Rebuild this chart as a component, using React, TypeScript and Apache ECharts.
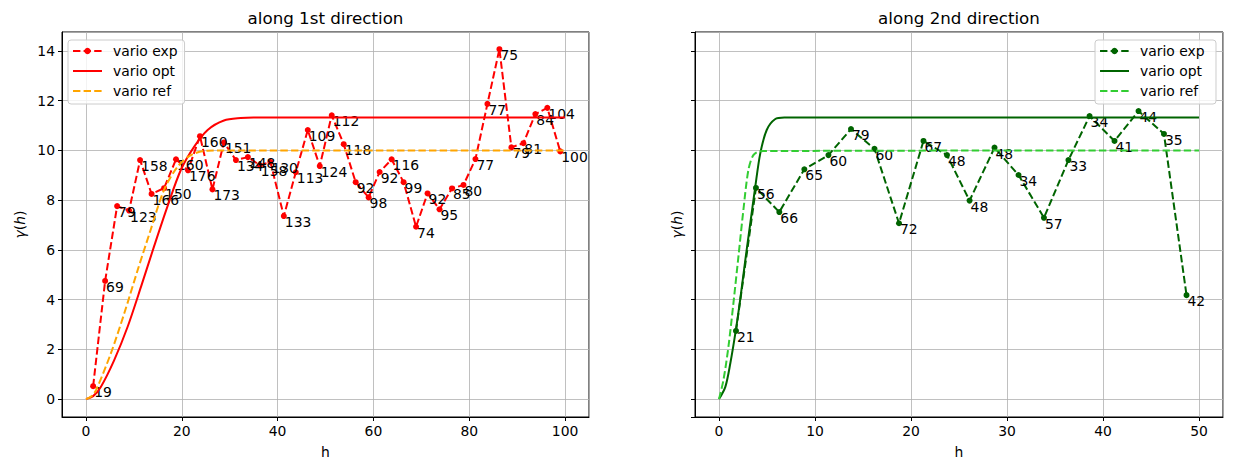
import React, { useEffect, useRef } from "react";
import * as echarts from "echarts";

// ---------- data ----------
// left panel: along 1st direction
const lagA = [1.5, 4.0, 6.5, 9.0, 11.3, 13.7, 16.3, 18.8, 21.3, 23.8, 26.4, 28.8, 31.3, 33.8, 36.3, 38.5, 41.3, 43.8, 46.3, 48.8, 51.3, 53.8, 56.3, 59.0, 61.3, 63.8, 66.3, 68.9, 71.3, 73.8, 76.4, 78.8, 81.3, 83.8, 86.3, 88.8, 91.3, 93.8, 96.3, 99.0];
const expA = [0.52, 4.75, 7.76, 7.58, 9.61, 8.25, 8.48, 9.64, 9.2, 10.57, 8.43, 10.32, 9.61, 9.73, 9.4, 9.53, 7.36, 9.12, 10.82, 9.37, 11.41, 10.25, 8.72, 8.11, 9.13, 9.64, 8.72, 6.93, 8.27, 7.63, 8.47, 8.61, 9.65, 11.87, 14.07, 10.12, 10.29, 11.46, 11.71, 9.96];
const countsA = [19, 69, 79, 123, 158, 166, 150, 160, 176, 160, 173, 151, 134, 148, 158, 130, 133, 113, 109, 124, 112, 118, 92, 98, 92, 116, 99, 74, 92, 95, 85, 80, 77, 77, 75, 79, 81, 84, 104, 100];
const optHA = [0, 1.5, 3.1, 5.9, 8.7, 11.5, 14.2, 17.0, 19.8, 22.6, 25.4, 28.8, 32.3, 35.0, 100];
const optGA = [0, 0.12, 0.49, 1.57, 2.91, 4.52, 6.13, 7.74, 9.21, 10.15, 10.82, 11.2, 11.3, 11.32, 11.32];
const refHA = [0, 1.0, 2.1, 5.2, 8.0, 10.8, 13.5, 16.3, 19.1, 21.9, 25.3, 28.0, 100];
const refGA = [0, 0.09, 0.36, 1.84, 3.45, 5.19, 6.8, 8.41, 9.34, 9.81, 9.99, 10, 10];

// right panel: along 2nd direction
const lagB = [1.77, 3.85, 6.28, 8.89, 11.4, 13.75, 16.2, 18.75, 21.3, 23.75, 26.1, 28.7, 31.2, 33.85, 36.4, 38.6, 41.2, 43.7, 46.35, 48.7];
const expB = [2.74, 8.49, 7.52, 9.24, 9.81, 10.86, 10.06, 7.07, 10.38, 9.81, 7.98, 10.11, 9.01, 7.29, 9.61, 11.38, 10.38, 11.58, 10.66, 4.18];
const countsB = [21, 56, 66, 65, 60, 79, 60, 72, 67, 48, 48, 48, 34, 57, 33, 34, 41, 44, 35, 42];
const optHB = [0, 0.66, 1.18, 1.7, 2.2, 2.74, 3.26, 3.78, 4.3, 4.97, 5.83, 6.8, 50];
const optGB = [0, 0.49, 1.44, 2.64, 3.98, 5.59, 7.07, 8.54, 9.88, 10.82, 11.25, 11.32, 11.32];
const refHB = [0, 0.46, 0.98, 1.5, 2.02, 2.54, 3.06, 3.58, 4.3, 50];
const refGB = [0, 0.76, 2.1, 3.85, 5.72, 7.6, 9.21, 9.81, 9.97, 10];

const titles = ["along 1st direction", "along 2nd direction"];
const legendNames = ["vario exp", "vario opt", "vario ref"];

const FONT = "DejaVu Sans";
const DASH = [7.4, 3.2];

const zip = (xs: number[], ys: number[]) => xs.map((x, i) => [x, ys[i]]);

export default function App() {
  const ref = useRef<HTMLDivElement>(null);
  useEffect(() => {
    const chart = echarts.init(ref.current!, null, { renderer: "svg" });

    const grids = [
      { left: 62, top: 32, width: 527, height: 385 },
      { left: 695, top: 32, width: 528, height: 385 },
    ];

    const xAxisBase = (gi: number, min: number, max: number, iv: number) => ({
      type: "value",
      gridIndex: gi,
      min,
      max,
      minInterval: iv,
      maxInterval: iv,
      splitNumber: 5,
      name: "h",
      nameLocation: "middle",
      nameGap: 28,
      nameTextStyle: { color: "#000", fontSize: 13.9, fontFamily: FONT },
      axisLine: { onZero: false, lineStyle: { color: "#000", width: 1 } },
      axisTick: { show: true, length: 4, lineStyle: { color: "#000", width: 1 } },
      axisLabel: {
        color: "#000",
        fontSize: 13.9,
        fontFamily: FONT,
        margin: 7,
        showMinLabel: false,
        showMaxLabel: false,
      },
      splitLine: { show: true, lineStyle: { color: "#b0b0b0", width: 0.8 } },
    });

    const yAxisBase = (gi: number, showLabels: boolean, gap: number) => ({
      type: "value",
      gridIndex: gi,
      min: -0.72,
      max: 14.76,
      minInterval: 2,
      maxInterval: 2,
      splitNumber: 7,
      name: "{g|γ}{p|(}{g|h}{p|)}",
      nameLocation: "middle",
      nameRotate: 90,
      nameGap: gap,
      nameTextStyle: {
        color: "#000",
        rich: {
          g: { fontStyle: "italic", fontSize: 13.9, fontFamily: FONT, color: "#000" },
          p: { fontSize: 13.9, fontFamily: FONT, color: "#000" },
        },
      },
      axisLine: { onZero: false, lineStyle: { color: "#000", width: 1 } },
      axisTick: { show: true, length: 4, lineStyle: { color: "#000", width: 1 } },
      axisLabel: {
        show: showLabels,
        color: "#000",
        fontSize: 13.9,
        fontFamily: FONT,
        margin: 7,
        showMinLabel: false,
        showMaxLabel: false,
      },
      splitLine: { show: true, lineStyle: { color: "#b0b0b0", width: 0.8 } },
    });

    const expSeries = (
      name: string,
      gi: number,
      xs: number[],
      ys: number[],
      counts: number[],
      color: string
    ) => ({
      name,
      type: "line",
      xAxisIndex: gi,
      yAxisIndex: gi,
      data: zip(xs, ys),
      symbol: "circle",
      symbolSize: 6,
      showSymbol: true,
      itemStyle: { color },
      lineStyle: { color, width: 2, type: DASH },
      label: {
        show: true,
        position: "right",
        distance: 0,
        align: "left",
        verticalAlign: "top",
        offset: [-2, -1],
        color: "#000",
        fontSize: 13.9,
        fontFamily: FONT,
        formatter: (p: any) => String(counts[p.dataIndex]),
      },
      emphasis: { disabled: true },
      z: 2,
    });

    const curveSeries = (
      name: string,
      gi: number,
      xs: number[],
      ys: number[],
      color: string,
      dashed: boolean,
      z: number
    ) => ({
      name,
      type: "line",
      xAxisIndex: gi,
      yAxisIndex: gi,
      data: zip(xs, ys),
      showSymbol: false,
      symbol: "circle",
      smooth: 0.3,
      itemStyle: { color },
      lineStyle: { color, width: 2, type: dashed ? DASH : "solid" },
      emphasis: { disabled: true },
      z,
    });

    const namesA = legendNames;
    const namesB = legendNames.map((n) => n + " ");

    const legendBase = {
      orient: "vertical",
      top: 40,
      padding: [4, 7, 6, 4],
      itemWidth: 29,
      itemHeight: 8,
      itemGap: 6,
      borderColor: "#cccccc",
      borderWidth: 1,
      borderRadius: 3,
      backgroundColor: "rgba(255,255,255,0.8)",
      selectedMode: false,
      textStyle: {
        color: "#000",
        fontSize: 13.9,
        fontFamily: FONT,
        padding: [0, 0, 0, 6],
      },
    };
    const legendData = (names: string[]) =>
      names.map((n, i) =>
        i === 0 ? { name: n } : { name: n, itemStyle: { opacity: 0 } }
      );

    chart.setOption({
      animation: false,
      backgroundColor: "#ffffff",
      grid: grids.map((g) => ({
        ...g,
        show: true,
        borderColor: "#000",
        borderWidth: 1,
        backgroundColor: "transparent",
        containLabel: false,
      })),
      xAxis: [xAxisBase(0, -5, 105, 20), xAxisBase(1, -2.5, 52.5, 10)],
      yAxis: [yAxisBase(0, true, 35), yAxisBase(1, false, 11)],
      legend: [
        { ...legendBase, left: 68, data: legendData(namesA) },
        { ...legendBase, right: 17, data: legendData(namesB) },
      ],
      graphic: titles.map((t, i) => ({
        type: "text",
        x: grids[i].left + grids[i].width / 2,
        y: 18,
        style: {
          text: t,
          align: "center",
          verticalAlign: "middle",
          fontSize: 16.7,
          fontFamily: FONT,
          fill: "#000",
        },
      })),
      series: [
        expSeries(namesA[0], 0, lagA, expA, countsA, "#ff0000"),
        curveSeries(namesA[1], 0, optHA, optGA, "#ff0000", false, 3),
        curveSeries(namesA[2], 0, refHA, refGA, "#ffa500", true, 4),
        expSeries(namesB[0], 1, lagB, expB, countsB, "#006400"),
        curveSeries(namesB[1], 1, optHB, optGB, "#006400", false, 3),
        curveSeries(namesB[2], 1, refHB, refGB, "#32cd32", true, 4),
      ],
    });

    return () => chart.dispose();
  }, []);

  return (
    <div
      ref={ref}
      style={{ position: "fixed", left: 0, top: 0, width: 1233, height: 470 }}
    />
  );
}
